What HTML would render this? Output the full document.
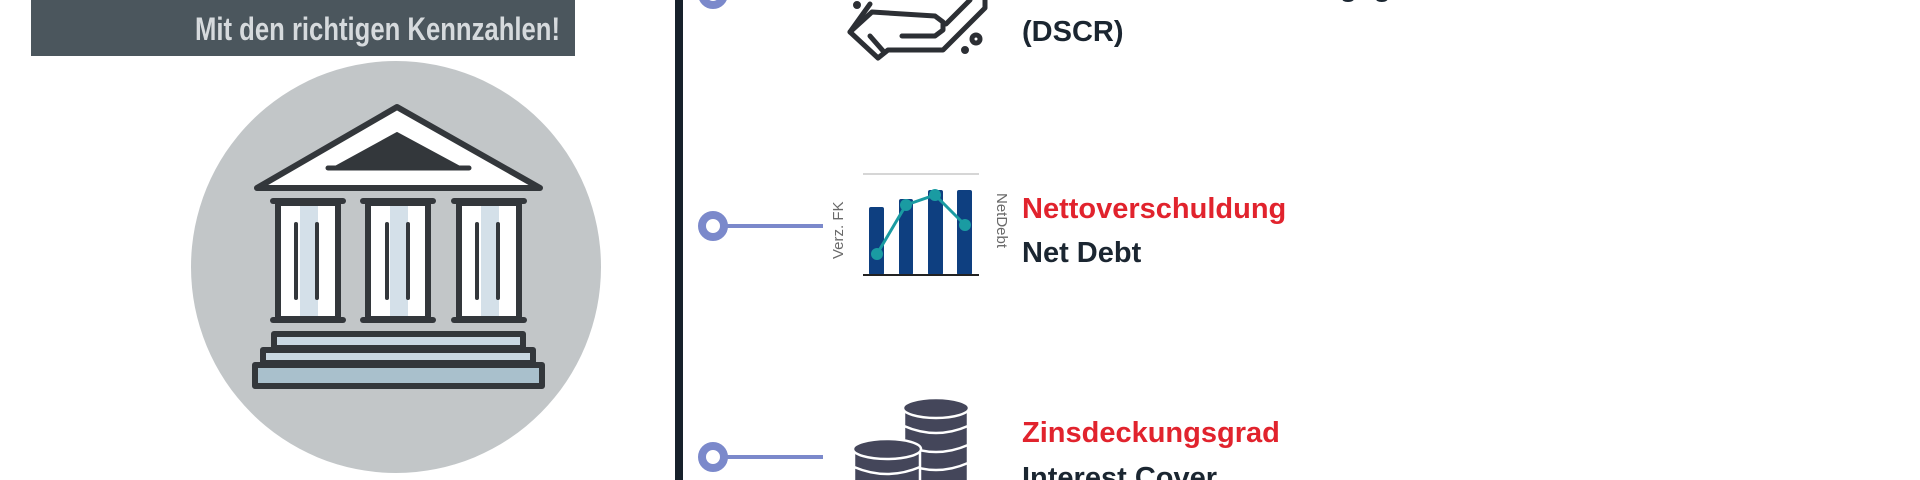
<!DOCTYPE html>
<html><head><meta charset="utf-8"><style>
html,body{margin:0;padding:0;background:#fff;width:1920px;height:480px;overflow:hidden}
svg{display:block}
</style></head><body>
<svg width="1920" height="480" viewBox="0 0 1920 480" xmlns="http://www.w3.org/2000/svg">
<rect x="31" y="0" width="544" height="56" fill="#4b565d"/>
<text x="560" y="40" text-anchor="end" font-family="Liberation Sans Narrow, Liberation Sans, sans-serif" font-weight="bold" font-size="32" fill="#d6dadd" textLength="365" lengthAdjust="spacingAndGlyphs">Mit den richtigen Kennzahlen!</text>
<ellipse cx="396" cy="267" rx="205" ry="206" fill="#c2c6c8"/>
<!-- building -->
<g stroke="#33373b" stroke-width="6" stroke-linejoin="round" stroke-linecap="round">
<polygon points="397,107 257,188 540,188" fill="#fff"/>
<polygon points="397,133 335,167 460,167" fill="#33373b" stroke-width="2"/>
<line x1="328" y1="168" x2="469" y2="168" stroke-width="5"/>
<g fill="#fff">
<rect x="278" y="203" width="60" height="116"/>
<rect x="368" y="203" width="60" height="116"/>
<rect x="459" y="203" width="60" height="116"/>
</g>
<g fill="#d4e0e9" stroke="none">
<rect x="300" y="206" width="18" height="110"/><rect x="390" y="206" width="18" height="110"/><rect x="481" y="206" width="18" height="110"/>
</g>
<g>
<line x1="273" y1="201" x2="343" y2="201"/><line x1="363" y1="201" x2="433" y2="201"/><line x1="454" y1="201" x2="524" y2="201"/>
<line x1="273" y1="320" x2="343" y2="320"/><line x1="363" y1="320" x2="433" y2="320"/><line x1="454" y1="320" x2="524" y2="320"/>
<line x1="296" y1="224" x2="296" y2="298" stroke-width="4"/><line x1="317" y1="224" x2="317" y2="298" stroke-width="4"/>
<line x1="387" y1="224" x2="387" y2="298" stroke-width="4"/><line x1="408" y1="224" x2="408" y2="298" stroke-width="4"/>
<line x1="477" y1="224" x2="477" y2="298" stroke-width="4"/><line x1="498" y1="224" x2="498" y2="298" stroke-width="4"/>
</g>
<rect x="274" y="334" width="249" height="14" fill="#c9d8e2"/>
<rect x="263" y="350" width="270" height="13" fill="#c9d8e2"/>
<rect x="255" y="365" width="287" height="21" fill="#a9c0cc"/>
</g>
<!-- vertical line -->
<rect x="675" y="0" width="8" height="480" fill="#17212b"/>
<!-- connectors -->
<g fill="none" stroke="#7b89cb">
<circle cx="713" cy="-6" r="11" stroke-width="8"/>
<circle cx="713" cy="226" r="11" stroke-width="8"/>
<line x1="724" y1="226" x2="823" y2="226" stroke-width="4"/>
<circle cx="713" cy="457" r="11" stroke-width="8"/>
<line x1="724" y1="457" x2="823" y2="457" stroke-width="4"/>
</g>
<!-- hand icon -->
<g fill="none" stroke="#2c2f34" stroke-width="5" stroke-linejoin="round" stroke-linecap="round">
<path d="M870,4 L850,32 L878,58 L888,50 L943,50 L985,8 L985,0"/>
<path d="M850,32 L872,12 L935,16 L943,22 L943,30 L935,36 L902,36"/>
<path d="M870,36 L884,52"/>
<path d="M946,24 L970,0"/>
<circle cx="976" cy="39" r="4"/>
<circle cx="965" cy="50" r="1.5" fill="#2c2f34"/>
<circle cx="857" cy="5" r="1.5" fill="#2c2f34"/>
</g>
<!-- chart -->
<line x1="863" y1="174" x2="979" y2="174" stroke="#d6d6d6" stroke-width="2"/>
<g fill="#0e3f80">
<rect x="869" y="207" width="15" height="68" rx="2"/>
<rect x="899" y="199" width="14" height="76" rx="2"/>
<rect x="928" y="190" width="15" height="85" rx="2"/>
<rect x="957" y="190" width="15" height="85" rx="2"/>
</g>
<line x1="863" y1="275" x2="979" y2="275" stroke="#222" stroke-width="2"/>
<polyline points="877,254 906,205 935,195 965,225" fill="none" stroke="#1a9ba2" stroke-width="3"/>
<g fill="#1a9ba2"><circle cx="877" cy="254" r="6"/><circle cx="906" cy="205" r="6"/><circle cx="935" cy="195" r="6"/><circle cx="965" cy="225" r="6"/></g>
<text transform="translate(843,259) rotate(-90)" font-family="Liberation Sans, sans-serif" font-size="15" fill="#6a6a6a">Verz. FK</text>
<text transform="translate(997,193) rotate(90)" font-family="Liberation Sans, sans-serif" font-size="15" fill="#6a6a6a">NetDebt</text>
<!-- coins -->
<g fill="#44465a" stroke="#fff" stroke-width="2.5">
<path d="M904,408 L904,482 L968,482 L968,408 Z"/>
<ellipse cx="936" cy="408" rx="33" ry="10"/>
<path d="M904,426 Q936,440 968,426" fill="none"/>
<path d="M904,445 Q936,459 968,445" fill="none"/>
<path d="M904,463 Q936,477 968,463" fill="none"/>
<path d="M854,449 L854,482 L920,482 L920,449 Z"/>
<ellipse cx="887" cy="449" rx="34" ry="10"/>
<path d="M854,467 Q887,481 920,467" fill="none"/>
</g>
<!-- texts -->
<g font-family="Liberation Sans, sans-serif" font-size="29" font-weight="bold">
<text x="1022" y="-4" fill="#1b2631">Schuldendienstdeckungsgrad</text>
<text x="1022" y="41" fill="#1b2631">(DSCR)</text>
<text x="1022" y="218" fill="#e1232d">Nettoverschuldung</text>
<text x="1022" y="262" fill="#1b2631">Net Debt</text>
<text x="1022" y="442" fill="#e1232d">Zinsdeckungsgrad</text>
<text x="1022" y="487" fill="#1b2631">Interest Cover</text>
</g>
</svg>
</body></html>
